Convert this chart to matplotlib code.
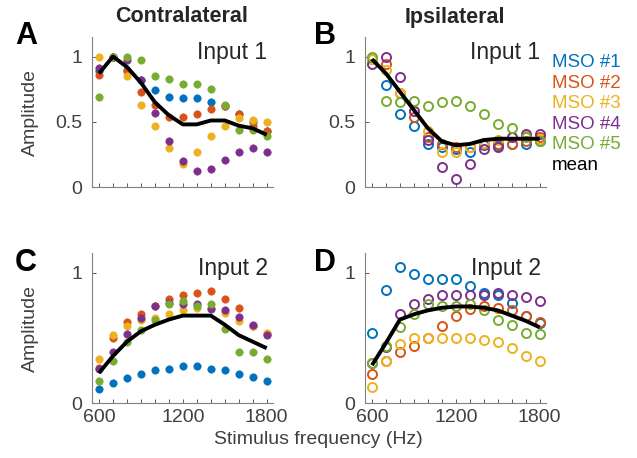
import numpy as np
import matplotlib
matplotlib.use('Agg')
import matplotlib.pyplot as plt
from matplotlib.ticker import MultipleLocator

plt.rcParams['font.family'] = ['Liberation Sans', 'DejaVu Sans']

freqs = [600, 700, 800, 900, 1000, 1100, 1200, 1300, 1400, 1500, 1600, 1700, 1800]
mso_names = ['MSO #1', 'MSO #2', 'MSO #3', 'MSO #4', 'MSO #5']
mso_colors = ['#0072BD', '#D95319', '#EDB120', '#7E2F8E', '#77AC30']

# A: contralateral, input 1
contra_in1 = [
    [0.89, 1.00, 0.90, 0.82, 0.74, 0.69, 0.68, 0.68, 0.65, 0.62, 0.56, 0.50, 0.43],
    [0.86, 1.00, 0.89, 0.73, 0.63, 0.54, 0.54, 0.56, 0.60, 0.62, 0.56, 0.47, 0.43],
    [1.00, 1.00, 0.85, 0.63, 0.47, 0.30, 0.18, 0.27, 0.39, 0.47, 0.53, 0.51, 0.50],
    [0.91, 1.00, 0.97, 0.82, 0.57, 0.35, 0.20, 0.12, 0.14, 0.21, 0.27, 0.30, 0.27],
    [0.69, 1.00, 1.00, 0.97, 0.85, 0.83, 0.79, 0.79, 0.75, 0.63, 0.44, 0.44, 0.39],
]
contra_in1_mean = [0.87, 1.00, 0.92, 0.80, 0.65, 0.55, 0.48, 0.48, 0.51, 0.51, 0.47, 0.45, 0.40]

# B: ipsilateral, input 1
ipsi_in1 = [
    [0.99, 0.78, 0.56, 0.47, 0.33, 0.31, 0.29, 0.27, 0.32, 0.32, 0.33, 0.33, 0.35],
    [0.98, 0.94, 0.72, 0.54, 0.38, 0.33, 0.31, 0.31, 0.33, 0.33, 0.33, 0.35, 0.38],
    [0.98, 0.90, 0.72, 0.58, 0.43, 0.27, 0.27, 0.31, 0.34, 0.36, 0.38, 0.39, 0.37],
    [0.94, 1.00, 0.84, 0.58, 0.36, 0.15, 0.06, 0.18, 0.29, 0.31, 0.38, 0.41, 0.41],
    [1.00, 0.66, 0.65, 0.66, 0.62, 0.65, 0.66, 0.62, 0.56, 0.48, 0.45, 0.38, 0.35],
]
ipsi_in1_mean = [0.98, 0.87, 0.73, 0.59, 0.45, 0.35, 0.32, 0.33, 0.36, 0.37, 0.37, 0.37, 0.37]

# C: contralateral, input 2
contra_in2 = [
    [0.11, 0.15, 0.19, 0.22, 0.25, 0.26, 0.28, 0.28, 0.26, 0.25, 0.22, 0.20, 0.17],
    [0.27, 0.50, 0.62, 0.68, 0.74, 0.80, 0.83, 0.84, 0.86, 0.80, 0.73, 0.59, 0.53],
    [0.34, 0.52, 0.59, 0.64, 0.65, 0.68, 0.71, 0.73, 0.73, 0.69, 0.63, 0.59, 0.54],
    [0.26, 0.39, 0.53, 0.65, 0.74, 0.77, 0.76, 0.76, 0.72, 0.71, 0.66, 0.60, 0.52],
    [0.17, 0.32, 0.47, 0.56, 0.64, 0.76, 0.78, 0.74, 0.76, 0.57, 0.39, 0.39, 0.34],
]
contra_in2_mean = [0.23, 0.36, 0.47, 0.55, 0.60, 0.64, 0.67, 0.67, 0.67, 0.60, 0.52, 0.47, 0.42]

# D: ipsilateral, input 2
ipsi_in2 = [
    [0.54, 0.87, 1.04, 0.99, 0.95, 0.95, 0.95, 0.90, 0.84, 0.83, 0.77, 0.67, 0.61],
    [0.22, 0.32, 0.39, 0.44, 0.50, 0.59, 0.67, 0.72, 0.74, 0.73, 0.71, 0.67, 0.62],
    [0.12, 0.32, 0.45, 0.50, 0.50, 0.50, 0.50, 0.50, 0.48, 0.47, 0.42, 0.36, 0.32],
    [0.31, 0.43, 0.68, 0.76, 0.80, 0.83, 0.83, 0.83, 0.83, 0.84, 0.83, 0.81, 0.78],
    [0.31, 0.44, 0.58, 0.68, 0.76, 0.74, 0.74, 0.76, 0.71, 0.64, 0.60, 0.54, 0.53],
]
ipsi_in2_mean = [0.29, 0.46, 0.64, 0.68, 0.71, 0.73, 0.74, 0.74, 0.73, 0.71, 0.67, 0.63, 0.58]

W, H = 637, 458
fig = plt.figure(figsize=(W / 100, H / 100), dpi=100)

def px_axes(left, top, right, bottom):
    return fig.add_axes([left / W, 1 - bottom / H, (right - left) / W, (bottom - top) / H])

gray = '#404040'

def style(ax, yticks, ylabels, label):
    ax.set_xlim(550, 1845)
    ax.set_ylim(0, 1.15)
    ax.set_xticks([600, 1200, 1800])
    ax.xaxis.set_minor_locator(MultipleLocator(100))
    ax.set_yticks(yticks)
    ax.set_yticklabels(ylabels)
    for s in ['top', 'right']:
        ax.spines[s].set_visible(False)
    for s in ['left', 'bottom']:
        ax.spines[s].set_color('#808080')
        ax.spines[s].set_linewidth(0.8)
    ax.tick_params(which='both', direction='in', length=3, color='#404040',
                   labelsize=14, labelcolor=gray, width=0.6)
    ax.tick_params(axis='y', pad=7)
    ax.tick_params(axis='x', pad=4)
    ax.text(0.97, 0.97, label, transform=ax.transAxes, ha='right', va='top',
            fontsize=16.5, color='#262626')

def draw(ax, data, mean, filled):
    for vals, c in zip(data, mso_colors):
        if filled:
            ax.plot(freqs, vals, 'o', ls='none', ms=5.3, mfc=c, mec=c, mew=0.5)
        else:
            ax.plot(freqs, vals, 'o', ls='none', ms=6.5, mfc='none', mec=c, mew=1.4)
    ax.plot(freqs, mean, color='black', lw=2.8, solid_capstyle='butt')

axA = px_axes(92, 37, 273, 187)
axB = px_axes(365, 37, 546, 187)
axC = px_axes(92, 253, 273, 403)
axD = px_axes(365, 253, 546, 403)

draw(axA, contra_in1, contra_in1_mean, True)
draw(axB, ipsi_in1, ipsi_in1_mean, False)
draw(axC, contra_in2, contra_in2_mean, True)
draw(axD, ipsi_in2, ipsi_in2_mean, False)

style(axA, [0, 0.5, 1], ['0', '0.5', '1'], 'Input 1')
style(axB, [0, 0.5, 1], ['0', '0.5', '1'], 'Input 1')
style(axC, [0, 1], ['0', '1'], 'Input 2')
style(axD, [0, 1], ['0', '1'], 'Input 2')

for ax in (axA, axB):
    ax.set_xticklabels([])
for ax in (axA, axC):
    ax.set_ylabel('Amplitude', fontsize=14, color=gray)
    ax.yaxis.set_label_coords((38.5 - 92) / 181, 0.5)

fig.text(182 / W, 1 - 17 / H, 'Contralateral', ha='center', va='center',
         fontsize=15.5, fontweight='bold', color='#262626')
fig.text(455 / W, 1 - 17 / H, 'Ipsilateral', ha='center', va='center',
         fontsize=15.5, fontweight='bold', color='#262626')
for letter, x, y in [('A', 26, 36), ('B', 325, 36), ('C', 26, 263), ('D', 325, 263)]:
    fig.text(x / W, 1 - y / H, letter, ha='center', va='center',
             fontsize=22, fontweight='bold', color='black')

fig.text(318 / W, 1 - 440 / H, 'Stimulus frequency (Hz)', ha='center', va='center',
         fontsize=14, color=gray)

for i, (name, c) in enumerate(zip(mso_names + ['mean'], mso_colors + ['black'])):
    fig.text(552 / W, 1 - (63 + i * 20.4) / H, name, ha='left', va='center',
             fontsize=13.5, color=c)

fig.savefig('out.png', dpi=100)
